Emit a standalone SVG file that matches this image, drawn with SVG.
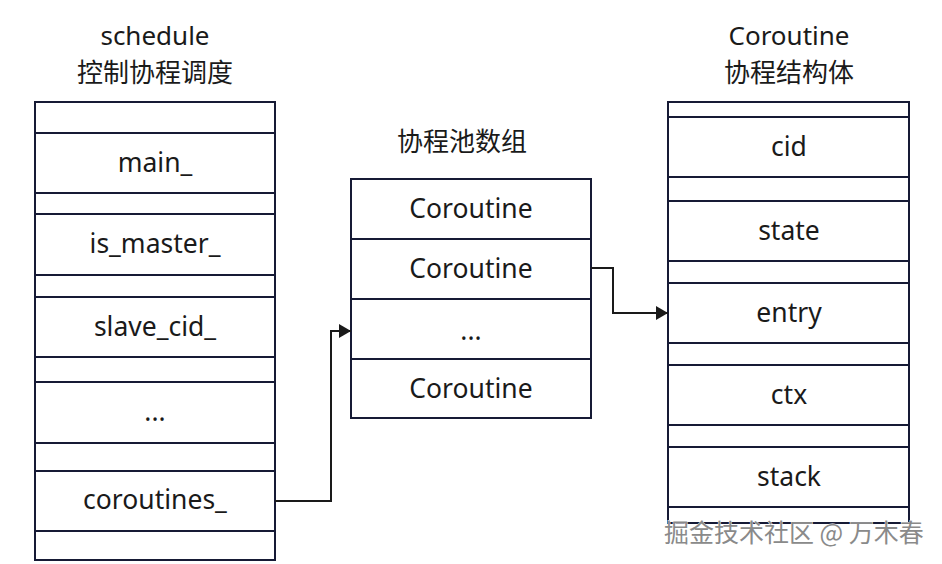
<svg xmlns="http://www.w3.org/2000/svg" width="942" height="564" viewBox="0 0 942 564">
<defs>
<marker id="arr" viewBox="0 0 12 14" refX="12" refY="7" markerWidth="12" markerHeight="14" markerUnits="userSpaceOnUse" orient="auto">
<path d="M0,0 L12,7 L0,14 Z" fill="#1a1a1a"/>
</marker>
</defs>
<style>
.box{fill:#ffffff;stroke:#161a35;stroke-width:2}
.ln{stroke:#161a35;stroke-width:2}
.t{font-family:"Noto Sans","Noto Sans CJK SC",sans-serif;font-size:26.5px;fill:#1a1a1a;text-anchor:middle}
.h{font-family:"Noto Sans","Noto Sans CJK SC",sans-serif;font-size:26px;fill:#1a1a1a;text-anchor:middle}
.c{stroke:#1a1a1a;stroke-width:2;fill:none}
.wm{font-family:"Noto Sans CJK SC",sans-serif;font-size:25px;fill:#8a8a8a;stroke:#ffffff;stroke-width:0.8;paint-order:stroke}
</style>
<rect width="942" height="564" fill="#ffffff"/>
<g id="schedule">
<text class="h" x="155" y="45">schedule</text>
<text class="h" x="155" y="82">控制协程调度</text>
<rect class="box" x="35" y="102" width="240" height="458"/>
<line class="ln" x1="35" y1="133" x2="275" y2="133"/>
<line class="ln" x1="35" y1="193" x2="275" y2="193"/>
<line class="ln" x1="35" y1="214" x2="275" y2="214"/>
<line class="ln" x1="35" y1="275" x2="275" y2="275"/>
<line class="ln" x1="35" y1="297" x2="275" y2="297"/>
<line class="ln" x1="35" y1="357" x2="275" y2="357"/>
<line class="ln" x1="35" y1="382" x2="275" y2="382"/>
<line class="ln" x1="35" y1="443" x2="275" y2="443"/>
<line class="ln" x1="35" y1="471" x2="275" y2="471"/>
<line class="ln" x1="35" y1="531" x2="275" y2="531"/>
<text class="t" x="155" y="172">main_</text>
<text class="t" x="155" y="253">is_master_</text>
<text class="t" x="155" y="336">slave_cid_</text>
<text class="t" x="155" y="421">...</text>
<text class="t" x="155" y="509">coroutines_</text>
</g>
<g id="pool">
<text class="h" x="462" y="151">协程池数组</text>
<rect class="box" x="351" y="179" width="240" height="239"/>
<line class="ln" x1="351" y1="239" x2="591" y2="239"/>
<line class="ln" x1="351" y1="299" x2="591" y2="299"/>
<line class="ln" x1="351" y1="359" x2="591" y2="359"/>
<text class="t" x="471" y="218">Coroutine</text>
<text class="t" x="471" y="278">Coroutine</text>
<text class="t" x="471" y="340">...</text>
<text class="t" x="471" y="398">Coroutine</text>
</g>
<g id="coroutine">
<text class="h" x="789" y="45">Coroutine</text>
<text class="h" x="789" y="82">协程结构体</text>
<rect class="box" x="668" y="102" width="241" height="421"/>
<line class="ln" x1="668" y1="117" x2="909" y2="117"/>
<line class="ln" x1="668" y1="177" x2="909" y2="177"/>
<line class="ln" x1="668" y1="201" x2="909" y2="201"/>
<line class="ln" x1="668" y1="261" x2="909" y2="261"/>
<line class="ln" x1="668" y1="283" x2="909" y2="283"/>
<line class="ln" x1="668" y1="343" x2="909" y2="343"/>
<line class="ln" x1="668" y1="365" x2="909" y2="365"/>
<line class="ln" x1="668" y1="425" x2="909" y2="425"/>
<line class="ln" x1="668" y1="447" x2="909" y2="447"/>
<line class="ln" x1="668" y1="507" x2="909" y2="507"/>
<text class="t" x="789" y="156">cid</text>
<text class="t" x="789" y="240">state</text>
<text class="t" x="789" y="322">entry</text>
<text class="t" x="789" y="404">ctx</text>
<text class="t" x="789" y="486">stack</text>
</g>
<g id="connectors">
<polyline class="c" points="275,501 331,501 331,331 351,331" marker-end="url(#arr)"/>
<polyline class="c" points="591,268 613,268 613,313 668,313" marker-end="url(#arr)"/>
</g>
<text class="wm" x="664" y="542">掘金技术社区 @ 万木春</text>
</svg>
